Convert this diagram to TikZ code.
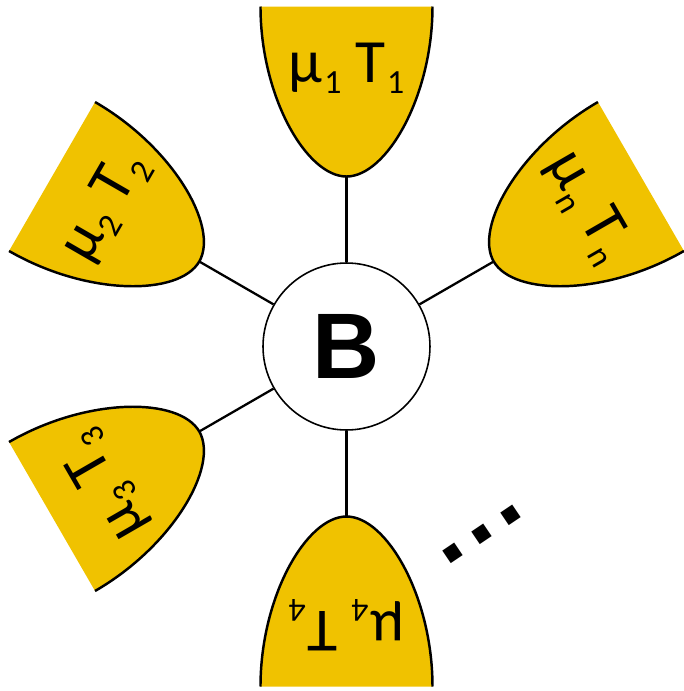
\documentclass[tikz,border=0pt]{standalone}
\usepackage{fontspec}
\setmainfont{Carlito}
\newfontfamily\boldsans{Liberation Sans}
\usepackage{graphicx}
\usepackage{tikz}
\usetikzlibrary{positioning,calc}
\definecolor{resgold}{RGB}{240,194,0}
\newcommand\idx[1]{\kern1pt\raisebox{-0.18em}{\scalebox{0.55}{#1}}}

\begin{document}
\begin{tikzpicture}[x=0.02cm, y=0.02cm,
    bath/.style={fill=resgold},
    rim/.style={line width=1.4pt},
    link/.style={line width=1.3pt},
    system/.style={draw, circle, line width=0.9pt, minimum size=3.34cm, inner sep=0pt,
        font=\boldsans\bfseries\fontsize{53}{60}\selectfont},
    batlabel/.style={transform shape, anchor=base, font=\fontsize{35}{42}\selectfont}]

    \useasboundingbox (-346.5,-344.5) rectangle (337.5,346.5);

    % central system
    \node[system] (B) at (0,0) {B};

    % reservoirs
    \foreach \ang/\k in {90/1, 150/2, 210/3, 270/4, 30/n} {
        \begin{scope}[rotate=\ang-90]
            \fill[bath] (-86,340) .. controls (-86,250) and (-40,170) .. (0,170)
                .. controls (40,170) and (86,250) .. (86,340) -- cycle;
            \draw[rim] (-86,340) .. controls (-86,250) and (-40,170) .. (0,170)
                .. controls (40,170) and (86,250) .. (86,340);
            \coordinate (tip\k) at (0,170);
            \node[batlabel] (lab\k) at (0,264.5) {μ\idx{\k} T\idx{\k}};
        \end{scope}
        \draw[link] (B) -- (tip\k);
    }

    % more reservoirs
    \node[rotate=34, font=\boldsans\bfseries\fontsize{58}{58}\selectfont] (more) at (135.5,-188) {.\kern3.5pt.\kern3.5pt.};
\end{tikzpicture}
\end{document}
